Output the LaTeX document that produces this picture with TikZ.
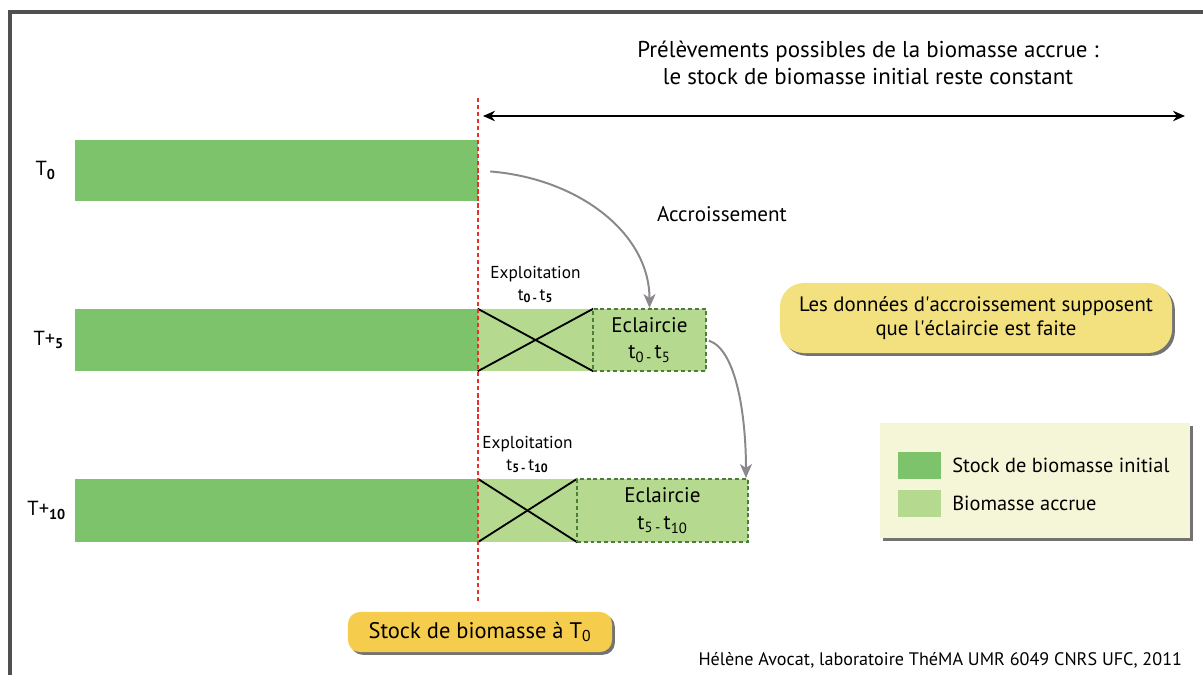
\documentclass[tikz,border=0pt]{standalone}
\usepackage{fontspec}
\setmainfont{PT Sans}
\usetikzlibrary{arrows.meta, positioning, calc, fit, shadows}
\definecolor{stockgreen}{HTML}{7DC36B}
\definecolor{accrugreen}{HTML}{B5D98F}
\definecolor{eclborder}{HTML}{4E7D3A}
\definecolor{notejaune}{HTML}{F2E17E}
\definecolor{stockjaune}{HTML}{F6CC4C}
\definecolor{legfond}{HTML}{F5F6D7}
\definecolor{cadregris}{HTML}{505050}
\definecolor{flechegris}{HTML}{8C878C}
\definecolor{limrouge}{HTML}{E8312B}
\tikzset{
	cadre/.style={draw=cadregris, line width=2.2pt},
	barbox/.style={fill=#1, draw=none, inner sep=0pt},
	eclbox/.style={fill=accrugreen, draw=eclborder, line width=1.4pt, dash pattern=on 2.8pt off 2pt, inner sep=0pt},
	crossline/.style={line width=1.3pt, black},
	titre/.style={align=center, font=\fontsize{16.3}{19.5}\selectfont},
	tlabel/.style={font=\fontsize{14.5}{16}\selectfont},
	explo/.style={align=center, font=\fontsize{12.3}{15.5}\selectfont, inner sep=1pt},
	ecltext/.style={align=center, font=\fontsize{15}{19}\selectfont},
	plaintext/.style={font=\fontsize{15}{17}\selectfont},
	ombre/.style={drop shadow={shadow xshift=2pt, shadow yshift=-2pt, fill=black, opacity=0.55}},
	note/.style={ombre, fill=notejaune, rounded corners=0.6cm, minimum width=9.8cm, minimum height=1.75cm, align=center, font=\fontsize{14.8}{16.5}\selectfont},
	stocknote/.style={ombre, fill=stockjaune, rounded corners=0.3cm, minimum width=6.6cm, minimum height=1cm, font=\fontsize{16}{18}\selectfont},
	legende/.style={ombre, fill=legfond, inner sep=0pt},
	legtext/.style={font=\fontsize{14.5}{16}\selectfont},
	credit/.style={font=\fontsize{12.9}{14}\selectfont},
	limite/.style={draw=limrouge, line width=1.3pt, dash pattern=on 3pt off 2pt},
	prelarr/.style={{Stealth[length=3mm, width=2.6mm]}-{Stealth[length=3mm, width=2.6mm]}, line width=1.4pt},
	croissarr/.style={-{Stealth[length=3.5mm, width=3mm, inset=1mm]}, draw=flechegris, line width=1.4pt},
}
\begin{document}
\begin{tikzpicture}[x=0.025cm, y=-0.025cm]
	\useasboundingbox (0,0) rectangle (1203,675);
	% cadre
	\draw[cadre] (1203,12) -- (10,12) -- (10,675);
	% titre
	\node[titre] (titre) at (868,63) {Prélèvements possibles de la biomasse accrue :\\le stock de biomasse initial reste constant};
	% barres de stock
	\node[barbox=stockgreen, fit={(75,140) (478,201)}] (bar0) {};
	\node[barbox=stockgreen, fit={(75,309) (478,371)}] (bar5) {};
	\node[barbox=stockgreen, fit={(75,479) (478,542)}] (bar10) {};
	\node[tlabel] (t0) at ($(bar0.west)+(-29,0)$) {T\textsubscript{\bfseries 0}};
	\node[tlabel] (t5) at ($(bar5.west)+(-26,0)$) {T+\textsubscript{\bfseries 5}};
	\node[tlabel] (t10) at ($(bar10.west)+(-28,0)$) {T+\textsubscript{\bfseries 10}};
	% biomasse accrue
	\node[barbox=accrugreen, fit={(478,309) (593,371)}] (cross5) {};
	\node[barbox=accrugreen, fit={(478,479) (577,542)}] (cross10) {};
	\draw[crossline] (cross5.north west) -- (cross5.south east);
	\draw[crossline] (cross5.south west) -- (cross5.north east);
	\draw[crossline] (cross10.north west) -- (cross10.south east);
	\draw[crossline] (cross10.south west) -- (cross10.north east);
	\node[eclbox, fit={(593,309) (706,371)}] (ecl5) {};
	\node[eclbox, fit={(577,479) (748,542)}] (ecl10) {};
	\node[ecltext] (ecltxt5) at (ecl5) {Eclaircie\\t\textsubscript{0\,-\,}t\textsubscript{5}};
	\node[ecltext] (ecltxt10) at (ecl10) {Eclaircie\\t\textsubscript{5\,-\,}t\textsubscript{10}};
	\node[explo, above=1mm of cross5] (explo5) {Exploitation\\t\textsubscript{\bfseries 0\,-\,}t\textsubscript{\bfseries 5}};
	\node[explo, above=1mm of cross10] (explo10) {Exploitation\\t\textsubscript{\bfseries 5\,-\,}t\textsubscript{\bfseries 10}};
	% accroissement
	\node[plaintext] (accr) at (722,214) {Accroissement};
	\draw[croissarr, shorten <=0.3cm] (bar0.east) .. controls +(100,8) and +(0,-75) .. (ecl5.north);
	\draw[croissarr, shorten <=0.05cm] (ecl5.east) .. controls +(30,10) and +(0,-60) .. ($(ecl10.north east)+(-3,0)$);
	% limite du stock initial
	\node[stocknote] (stock) at (480,632) {Stock de biomasse à T\textsubscript{0}};
	\coordinate (limhaut) at (478,98);
	\draw[limite, shorten >=0.25cm] (limhaut) -- (limhaut |- stock.north);
	\coordinate (prelg) at (483,116);
	\coordinate (preld) at (1185,116);
	\draw[prelarr] (prelg) -- (preld);
	% note
	\node[note] (hyp) at (976,318) {Les données d\textquotesingle accroissement supposent\\que l\textquotesingle éclaircie est faite};
	% legende
	\node[legende, fit={(880,423) (1190,538)}] (leg) {};
	\node[barbox=stockgreen, fit={(898,452) (941,479)}] (sw1) {};
	\node[barbox=accrugreen, fit={(898,490) (941,517)}] (sw2) {};
	\node[legtext, right=1.5mm of sw1] (leg1) {Stock de biomasse initial};
	\node[legtext, right=1.5mm of sw2] (leg2) {Biomasse accrue};
	% credit
	\node[credit, anchor=east] (credit) at (1187,660) {Hélène Avocat, laboratoire ThéMA UMR 6049 CNRS UFC, 2011};
\end{tikzpicture}
\end{document}
